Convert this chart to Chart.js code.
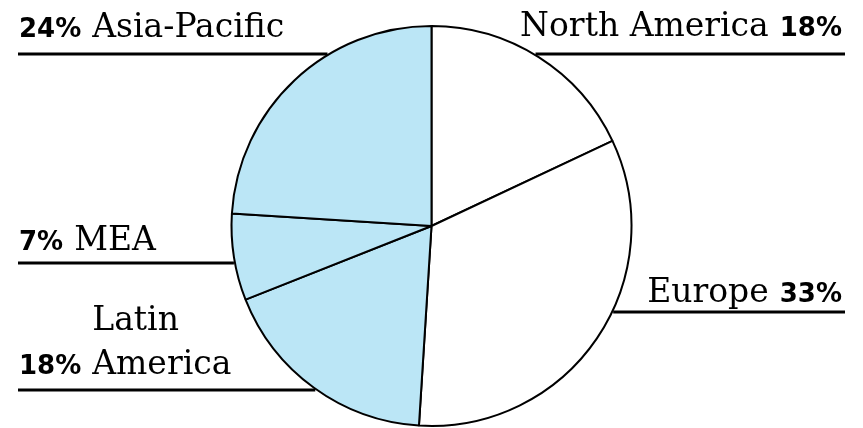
<!DOCTYPE html>
<html>
<head>
<meta charset="utf-8">
<script src="https://cdn.jsdelivr.net/npm/chart.js@4.4.1/dist/chart.umd.min.js"></script>
<style>
  html, body { margin: 0; padding: 0; background: #fff; }
  #wrap { width: 863px; height: 428px; }
</style>
</head>
<body>
<div id="wrap"><canvas id="shareChart" width="863" height="428"></canvas></div>
<script>
// regions listed clockwise from 12 o'clock
const regions = ['North America', 'Europe', 'Latin America', 'MEA', 'Asia-Pacific'];
const shares = [18, 33, 18, 7, 24];

const BLUE = '#bbe6f6';
const sliceColors = ['#ffffff', '#ffffff', BLUE, BLUE, BLUE];

const PCT_FONT = 'bold 26px "DejaVu Sans", Verdana, sans-serif';
const NAME_FONT = '33px "DejaVu Serif", Georgia, serif';
const LEFT_X = 18;
const RIGHT_X = 845;
const GAP = 11;

// callout placement, same order as regions
const callouts = [
  { side: 'right', lineY: 54, baseY: [36], lines: ['North America'] },
  { side: 'right', lineY: 312, baseY: [302], lines: ['Europe'] },
  { side: 'left', lineY: 390, baseY: [330, 374], lines: ['Latin', 'America'] },
  { side: 'left', lineY: 263, baseY: [250], lines: ['MEA'] },
  { side: 'left', lineY: 54, baseY: [37], lines: ['Asia-Pacific'] }
];

const calloutPlugin = {
  id: 'callouts',
  afterDraw(chart) {
    const ctx = chart.ctx;
    const arc = chart.getDatasetMeta(0).data[0];
    const cx = arc.x, cy = arc.y, r = arc.outerRadius + 1;
    ctx.save();
    ctx.fillStyle = '#000';
    ctx.strokeStyle = '#000';
    ctx.lineWidth = 3;
    ctx.textBaseline = 'alphabetic';
    callouts.forEach(function (c, i) {
      // leader line runs from the margin to the pie edge
      const dy = c.lineY - cy;
      const dx = Math.sqrt(Math.max(r * r - dy * dy, 0));
      ctx.beginPath();
      if (c.side === 'left') {
        ctx.moveTo(LEFT_X, c.lineY);
        ctx.lineTo(cx - dx, c.lineY);
      } else {
        ctx.moveTo(cx + dx, c.lineY);
        ctx.lineTo(RIGHT_X, c.lineY);
      }
      ctx.stroke();

      const pct = shares[i] + '%';
      ctx.font = PCT_FONT;
      const pw = ctx.measureText(pct).width;
      const last = c.lines.length - 1;
      if (c.side === 'left') {
        ctx.textAlign = 'left';
        ctx.fillText(pct, LEFT_X + 1, c.baseY[last]);
        ctx.font = NAME_FONT;
        c.lines.forEach(function (t, k) {
          ctx.fillText(t, LEFT_X + 1 + pw + GAP, c.baseY[k]);
        });
      } else {
        ctx.textAlign = 'right';
        ctx.fillText(pct, RIGHT_X - 3, c.baseY[last]);
        ctx.font = NAME_FONT;
        c.lines.forEach(function (t, k) {
          ctx.fillText(t, RIGHT_X - 3 - pw - GAP, c.baseY[k]);
        });
      }
    });
    ctx.restore();
  }
};

new Chart(document.getElementById('shareChart').getContext('2d'), {
  type: 'pie',
  data: {
    labels: regions,
    datasets: [{
      data: shares,
      backgroundColor: sliceColors,
      borderColor: '#000',
      borderWidth: 2,
      radius: 200
    }]
  },
  options: {
    responsive: false,
    animation: false,
    layout: { padding: { top: 24, bottom: 0, left: 0, right: 0 } },
    plugins: {
      legend: { display: false },
      tooltip: { enabled: false }
    }
  },
  plugins: [calloutPlugin]
});
</script>
</body>
</html>
